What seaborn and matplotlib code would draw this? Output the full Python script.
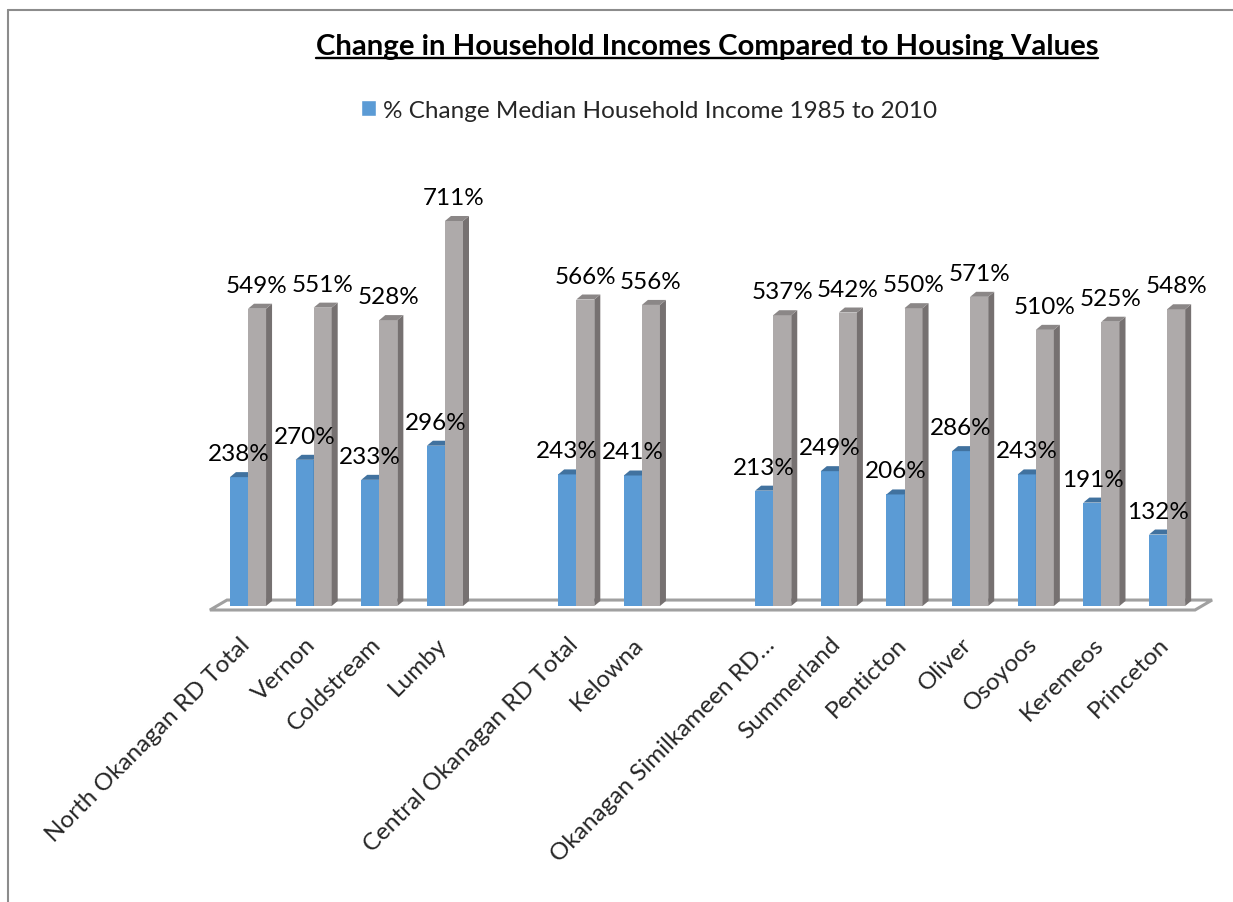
import numpy as np
import pandas as pd
import matplotlib
matplotlib.use("Agg")
import matplotlib.pyplot as plt
import matplotlib.transforms as mtransforms
import seaborn as sns
from matplotlib.patches import Polygon, Patch
from matplotlib.lines import Line2D

# ---------------- data ----------------
categories = ["North Okanagan RD Total", "Vernon", "Coldstream", "Lumby", "",
              "Central Okanagan RD Total", "Kelowna", "",
              "Okanagan Similkameen RD\u2026", "Summerland", "Penticton", "Oliver",
              "Osoyoos", "Keremeos", "Princeton"]
income_change = [238, 270, 233, 296, np.nan, 243, 241, np.nan,
                 213, 249, 206, 286, 243, 191, 132]
housing_change = [549, 551, 528, 711, np.nan, 566, 556, np.nan,
                  537, 542, 550, 571, 510, 525, 548]
series_names = ["% Change Median Household Income 1985 to 2010",
                "% Change Housing Value 1985 to 2010"]
title = "Change in Household Incomes Compared to Housing Values"

FRONT = ["#5B9BD5", "#AEAAAA"]
TOP = ["#41729F", "#8B8787"]
SIDE = ["#41729F", "#767171"]

sns.set_theme(style="white")
plt.rcParams["font.family"] = ["Lato", "DejaVu Sans"]

n = len(categories)
slots = list(range(n))
df = pd.DataFrame({
    "slot": slots * 2,
    "value": list(income_change) + list(housing_change),
    "series": [series_names[0]] * n + [series_names[1]] * n,
}).dropna()

W, H = 1233, 903
fig = plt.figure(figsize=(W / 100, H / 100), dpi=100)

# axes placement in pixels
ax_l, ax_r, ax_t, ax_b = 200, 1220, 150, 620
ax = fig.add_axes([ax_l / W, 1 - ax_b / H, (ax_r - ax_l) / W, (ax_b - ax_t) / H])

sns.barplot(data=df, x="slot", y="value", hue="series", order=slots,
            hue_order=series_names, palette=FRONT, width=0.55,
            linewidth=0, saturation=1, legend=False, ax=ax)

x_per_px = 1 / 65.65
y_per_px = 1 / 0.5415
xlim = ((ax_l - 248) * x_per_px, (ax_r - 248) * x_per_px)
ylim = (-(ax_b - 607) * y_per_px, (607 - ax_t) * y_per_px)
ax.set_xlim(*xlim)
ax.set_ylim(*ylim)

dx = 6 * x_per_px
dy = 5 * y_per_px

# floor
fl_front_l, fl_front_r = -0.58, (n - 1) + 0.425
fl_shift = 0.26
fv_front, fv_back = -7.4, 11.0
floor = Polygon([(fl_front_l, fv_front), (fl_front_r, fv_front),
                 (fl_front_r + fl_shift, fv_back), (fl_front_l + fl_shift, fv_back)],
                closed=True, facecolor="white", edgecolor="#A0A0A0", lw=2.2, zorder=0.5)
ax.add_patch(floor)

LABEL_FS = 17.5
for si, cont in enumerate(ax.containers):
    zbase = 2 + si
    for rect in cont.patches:
        x0, w, h = rect.get_x(), rect.get_width(), rect.get_height()
        if not np.isfinite(h):
            continue
        rect.set_zorder(zbase)
        side = Polygon([(x0 + w, 0), (x0 + w + dx, dy), (x0 + w + dx, h + dy), (x0 + w, h)],
                       closed=True, facecolor=SIDE[si], lw=0, zorder=zbase + 0.1)
        top = Polygon([(x0, h), (x0 + w, h), (x0 + w + dx, h + dy), (x0 + dx, h + dy)],
                      closed=True, facecolor=TOP[si], lw=0, zorder=zbase + 0.1)
        ax.add_patch(side)
        ax.add_patch(top)
        ax.annotate(f"{h:.0f}%", (x0 + w / 2, h), xytext=(0, 17),
                    textcoords="offset pixels", ha="center", va="baseline",
                    fontsize=LABEL_FS, color="black", zorder=6)

for s in ax.spines.values():
    s.set_visible(False)
ax.set_yticks([])
ax.set_xticks(slots)
ax.set_xticklabels(categories, rotation=45, ha="right", va="top",
                   rotation_mode="anchor", fontsize=LABEL_FS)
ax.tick_params(axis="x", length=0, pad=10)
shift = mtransforms.ScaledTranslation(-9 / 100, 0, fig.dpi_scale_trans)
for lab in ax.get_xticklabels():
    lab.set_transform(lab.get_transform() + shift)
ax.set_xlabel("")
ax.set_ylabel("")
ax.patch.set_alpha(0)

# title
t = fig.text(707 / W, 1 - 47 / H, title, ha="center", va="center",
             fontsize=21.2, fontweight="bold", color="black")
fig.canvas.draw()
bb = t.get_window_extent()
fig.add_artist(Line2D([bb.x0 / W, bb.x1 / W], [(bb.y0 + 1) / H, (bb.y0 + 1) / H],
                      color="black", lw=1.7, transform=fig.transFigure))

# legend
fig.legend(handles=[Patch(facecolor=FRONT[0])], labels=[series_names[0]],
           loc="center left", bbox_to_anchor=(361 / W, 1 - 111 / H),
           frameon=False, fontsize=LABEL_FS, handlelength=0.6, handleheight=0.6,
           handletextpad=0.3, borderpad=0, borderaxespad=0)

# chart border (left and top)
fig.add_artist(Line2D([7.5 / W, 7.5 / W], [0, 1 - 10.5 / H], color="#8C8C8C",
                      lw=1.5, transform=fig.transFigure))
fig.add_artist(Line2D([7.5 / W, 1], [1 - 10.5 / H, 1 - 10.5 / H], color="#8C8C8C",
                      lw=1.5, transform=fig.transFigure))

fig.savefig("out.png", dpi=100)
